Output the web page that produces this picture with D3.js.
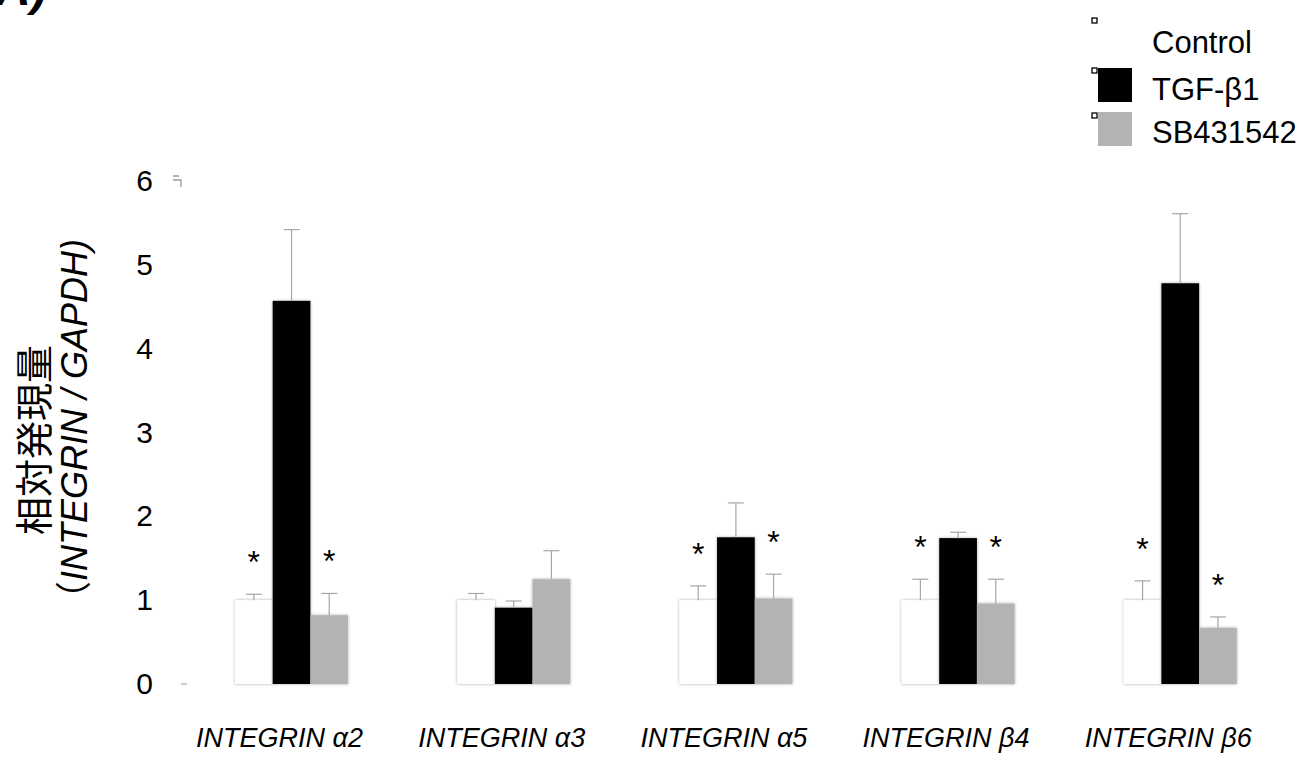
<!DOCTYPE html>
<html>
<head>
<meta charset="utf-8">
<script src="https://cdn.jsdelivr.net/npm/d3@7"></script>
<style>
  body { margin: 0; background: #fff; }
  svg { font-family: "Liberation Sans", Arial, sans-serif; }
</style>
</head>
<body>
<div id="vis"></div>
<script>
// data
var genes = ["INTEGRIN α2", "INTEGRIN α3", "INTEGRIN α5", "INTEGRIN β4", "INTEGRIN β6"];
var series = ["Control", "TGF-β1", "SB431542"];
var colors = ["#ffffff", "#000000", "#b3b3b3"];
var control = [1.00, 1.00, 1.00, 1.00, 1.00];
var tgf = [4.57, 0.91, 1.75, 1.74, 4.78];
var sb = [0.82, 1.25, 1.02, 0.96, 0.67];
var controlErr = [0.07, 0.08, 0.17, 0.25, 0.23];
var tgfErr = [0.85, 0.08, 0.41, 0.07, 0.83];
var sbErr = [0.26, 0.34, 0.29, 0.29, 0.13];
// significance marks (*), per series per gene
var controlSig = [true, false, true, true, true];
var tgfSig = [false, false, false, false, false];
var sbSig = [true, false, true, true, true];
var yTicks = [0, 1, 2, 3, 4, 5, 6];

var width = 1305, height = 769;

var svg = d3.select('#vis').append('svg')
    .attr('width', width)
    .attr('height', height);

var defs = svg.append('defs');
var shadow = defs.append('filter').attr('id', 'shadow')
    .attr('x', '-20%').attr('y', '-5%').attr('width', '140%').attr('height', '110%');
shadow.append('feDropShadow')
    .attr('dx', 0).attr('dy', 0).attr('stdDeviation', 1.5)
    .attr('flood-color', '#000').attr('flood-opacity', 0.35);

var y = d3.scaleLinear().domain([0, 6]).range([684, 181]);

var x = d3.scaleBand()
    .domain(genes)
    .range([180.4, 1291.4])
    .paddingInner(0.491)
    .paddingOuter(0.2457);

var xs = d3.scaleBand().domain(series).range([0, x.bandwidth()]);

var values = [control, tgf, sb];
var errs = [controlErr, tgfErr, sbErr];
var sigs = [controlSig, tgfSig, sbSig];

var rows = [];
genes.forEach(function (g, i) {
    series.forEach(function (s, j) {
        rows.push({ gene: g, series: s, color: colors[j], value: values[j][i], err: errs[j][i], sig: sigs[j][i] });
    });
});

// "A)" panel label, cut off at the top
svg.append('text')
    .attr('x', -4)
    .attr('y', 5)
    .attr('font-size', 48)
    .attr('font-weight', 'bold')
    .attr('font-style', 'italic')
    .text('A)');

// y axis
var yAxis = svg.append('g')
    .attr('transform', 'translate(180,0)')
    .call(d3.axisLeft(y).tickValues(yTicks).tickSize(0).tickPadding(27).tickFormat(d3.format('d')));
yAxis.select('.domain').remove();
yAxis.selectAll('text')
    .attr('font-size', 30)
    .attr('fill', '#000')
    .attr('font-family', '"Liberation Sans", Arial, sans-serif');

// tiny grey tick remnants
svg.append('line').attr('x1', 181).attr('x2', 187).attr('y1', y(0)).attr('y2', y(0)).attr('stroke', '#999');
svg.append('path').attr('d', 'M173,176h6M173,180h8v7').attr('stroke', '#999').attr('fill', 'none').attr('stroke-width', 1.3);

// bars
svg.append('g').selectAll('rect')
    .data(rows)
    .enter().append('rect')
    .attr('x', d => x(d.gene) + xs(d.series))
    .attr('y', d => y(d.value))
    .attr('width', xs.bandwidth())
    .attr('height', d => y(0) - y(d.value))
    .attr('fill', d => d.color)
    .attr('filter', 'url(#shadow)');

// error bars (upper only)
var eb = svg.append('g').attr('stroke', '#a6a6a6').attr('stroke-width', 1.2);
rows.forEach(function (d) {
    var cx = x(d.gene) + xs(d.series) + xs.bandwidth() / 2;
    eb.append('line').attr('x1', cx).attr('x2', cx).attr('y1', y(d.value)).attr('y2', y(d.value + d.err));
    eb.append('line').attr('x1', cx - 8).attr('x2', cx + 8).attr('y1', y(d.value + d.err)).attr('y2', y(d.value + d.err));
});

// stars
svg.append('g').selectAll('text')
    .data(rows.filter(d => d.sig))
    .enter().append('text')
    .attr('x', d => x(d.gene) + xs(d.series) + xs.bandwidth() / 2)
    .attr('y', d => y(d.value + d.err) - 21)
    .attr('text-anchor', 'middle')
    .attr('font-size', 32)
    .text('*');

// x labels
svg.append('g').selectAll('text')
    .data(genes)
    .enter().append('text')
    .attr('x', d => x(d) + x.bandwidth() / 2 - 12)
    .attr('y', 747)
    .attr('text-anchor', 'middle')
    .attr('font-size', 27)
    .attr('font-style', 'italic')
    .text(d => d);

// y title
var yt = svg.append('g');
yt.append('text')
    .attr('transform', 'translate(48,440) rotate(-90)')
    .attr('text-anchor', 'middle')
    .attr('font-size', 38)
    .attr('font-family', '"Noto Sans CJK JP", sans-serif')
    .text('相対発現量');
var t2 = yt.append('text')
    .attr('transform', 'translate(87,428) rotate(-90)')
    .attr('text-anchor', 'middle')
    .attr('font-size', 36);
t2.append('tspan').attr('font-family', '"Noto Sans CJK JP", sans-serif').text('（');
t2.append('tspan').attr('font-style', 'italic').text('INTEGRIN / GAPDH');
t2.append('tspan').attr('font-style', 'italic').text(')');

// legend
var legend = svg.append('g');
var markY = [18, 68, 113], swatchY = [22, 68, 112], textY = [53, 100, 143];
series.forEach(function (s, i) {
    legend.append('rect').attr('x', 1092).attr('y', markY[i]).attr('width', 5).attr('height', 5)
        .attr('fill', '#fff').attr('stroke', '#000').attr('stroke-width', 1.3);
    if (i > 0) {
        legend.append('rect').attr('x', 1098).attr('y', swatchY[i]).attr('width', 34).attr('height', 34)
            .attr('fill', colors[i]);
    }
    legend.append('text').attr('x', 1152).attr('y', textY[i]).attr('font-size', 31).text(s);
});
</script>
</body>
</html>
